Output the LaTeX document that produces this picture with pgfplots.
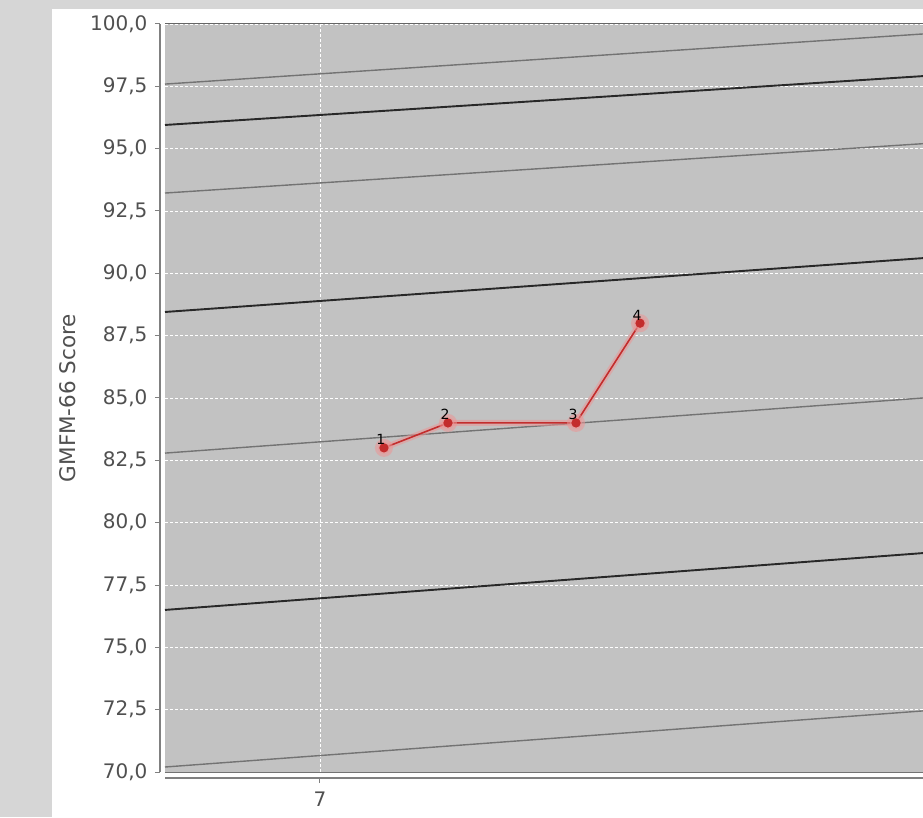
\documentclass[border=0pt]{standalone}
\usepackage{pgfplots}
\pgfplotsset{compat=1.18}
\usepackage{fontspec}
\setmainfont{DejaVu Sans}

\definecolor{outerbg}{RGB}{214,214,214}
\definecolor{plotbg}{RGB}{194,194,194}
\definecolor{txt}{RGB}{80,80,80}
\definecolor{thinc}{RGB}{115,115,115}
\definecolor{thickc}{RGB}{40,40,40}
\definecolor{ptred}{RGB}{195,45,45}
\definecolor{halo}{RGB}{235,150,150}

% GMFM-66 scores (age in years, score, visit number)
\pgfplotstableread{
x   y    lab
7.1 83.0 1
7.2 84.0 2
7.4 84.0 3
7.5 88.0 4
}\scores

\begin{document}
\begin{tikzpicture}[x=1pt,y=1pt]
\useasboundingbox (-165,-45) rectangle (758,772);
\fill[outerbg] (-165,-45) rectangle (758,772);
\fill[white] (-113,-45) rectangle (758,763);
\begin{axis}[
  at={(0,0)}, anchor=south west,
  scale only axis, width=758pt, height=748pt,
  xmin=6.758, xmax=7.942, ymin=70, ymax=100,
  axis background/.style={fill=plotbg},
  axis line style={draw=none},
  xtick={7}, xticklabels={7},
  ytick={70,72.5,...,100},
  tick align=outside, major tick length=5pt,
  xtick pos=bottom, ytick pos=left,
  y tick style={draw=gray, line width=1pt, xshift=-5pt},
  x tick style={draw=gray, line width=1pt, yshift=-6pt},
  yticklabel style={font=\fontsize{20}{24}\selectfont, text=txt, xshift=-9pt,
    /pgf/number format/.cd, fixed, fixed zerofill, precision=1, use comma, assume math mode=true},
  xticklabel style={font=\fontsize{20}{24}\selectfont, text=txt, yshift=-11pt},
  grid=major,
  major grid style={white, line width=0.8pt, dash pattern=on 3pt off 2pt},
  ylabel={GMFM-66 Score},
  every axis y label/.style={at={(axis description cs:-0.128,0.5)}, rotate=90, anchor=center,
    font=\fontsize{21.5}{25}\selectfont, text=txt},
  clip=true,
]
% reference percentile curves
\addplot[thinc, line width=1.4pt] coordinates {(6.758,97.59) (7.942,99.60)};
\addplot[thickc, line width=1.9pt] coordinates {(6.758,95.95) (7.942,97.91)};
\addplot[thinc, line width=1.4pt] coordinates {(6.758,93.22) (7.942,95.20)};
\addplot[thickc, line width=1.9pt] coordinates {(6.758,88.45) (7.942,90.61)};
\addplot[thinc, line width=1.4pt] coordinates {(6.758,82.79) (7.942,85.00)};
\addplot[thickc, line width=1.9pt] coordinates {(6.758,76.50) (7.942,78.78)};
\addplot[thinc, line width=1.4pt] coordinates {(6.758,70.20) (7.942,72.45)};
% patient scores
\addplot[halo, line width=6pt, opacity=0.55, mark=*, mark size=6pt] table[x=x,y=y] {\scores};
\addplot[ptred, line width=1.6pt, mark=*, mark size=3.8pt,
  nodes near coords, point meta=explicit symbolic,
  nodes near coords style={font=\fontsize{14}{16}\selectfont, text=black, anchor=south, xshift=-3pt, yshift=-1pt}]
  table[x=x,y=y,meta=lab] {\scores};
\draw[gray!80!black, line width=1pt] (axis description cs:0,1) -- (axis description cs:1,1);
\draw[gray!90!black, line width=1pt] (axis description cs:0,0) -- (axis description cs:1,0);
\end{axis}
\draw[gray, line width=1.2pt] (-5,0) -- (-5,748);
\draw[gray, line width=1.2pt] (0,-6) -- (758,-6);
\end{tikzpicture}
\end{document}
